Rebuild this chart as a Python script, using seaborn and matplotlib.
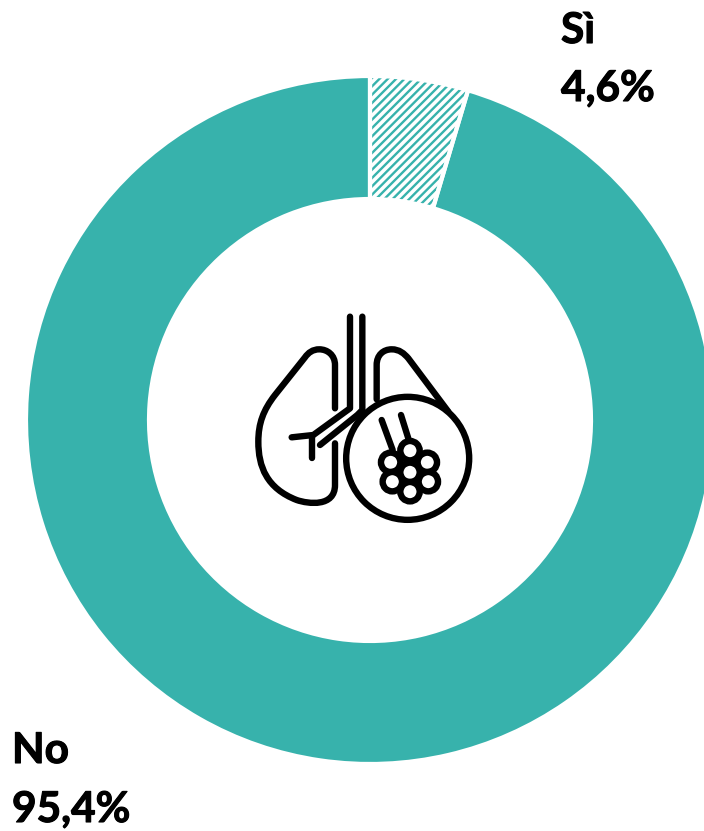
import matplotlib
matplotlib.use("Agg")
import matplotlib.pyplot as plt
import matplotlib.patheffects as pe
import seaborn as sns
from matplotlib.path import Path
from matplotlib.patches import PathPatch, Circle

categories = ["Sì", "No"]
values = [4.6, 95.4]
teal = "#37B2AC"

sns.set_theme(style="white")
plt.rcParams["font.family"] = ["Lato", "DejaVu Sans"]
plt.rcParams["hatch.linewidth"] = 1.7

W, H = 704, 831
fig = plt.figure(figsize=(W / 100, H / 100), dpi=100, facecolor="white")
ax = fig.add_axes([0, 0, 1, 1])

cx, cy, R, r = 370, H - 420, 343, 222

# base donut
wedges, _ = ax.pie(values, startangle=90, counterclock=False, center=(cx, cy), radius=R,
                   colors=["white", teal], wedgeprops=dict(width=R - r, linewidth=0))
wedges[0].set_facecolor("white")
wedges[0].set_edgecolor(teal)
wedges[0].set_hatch("////")
wedges[0].set_linewidth(0)
# white separators
over, _ = ax.pie(values, startangle=90, counterclock=False, center=(cx, cy), radius=R + 1,
                 colors=["none", "none"],
                 wedgeprops=dict(width=R - r + 2, linewidth=3, edgecolor="white", facecolor="none"))

ax.set_xlim(0, W)
ax.set_ylim(0, H)
ax.set_aspect("equal")
ax.axis("off")


# Lung icon, sketched from the reference (zoom crop at 240,300, scale 3)
def P(x, y):
    return (240 + x / 3, H - (300 + y / 3))


ICON_LW = 4.6
style = dict(fill=False, edgecolor="black", linewidth=ICON_LW, capstyle="round", joinstyle="round", zorder=5)


def curve(points, codes):
    ax.add_patch(PathPatch(Path([P(*p) for p in points], codes), **style))


M, L, C = Path.MOVETO, Path.LINETO, Path.CURVE4
# left lung
curve([(285, 325), (285, 195), (285, 165), (262, 148), (238, 148), (218, 148), (205, 158), (195, 172),
       (105, 285), (70, 330), (55, 370), (55, 425), (55, 500), (80, 565), (170, 600),
       (205, 612), (285, 622), (285, 555), (285, 430)],
      [M, L, C, C, C, C, C, C, L, C, C, C, C, C, C, C, C, C, L])
# right lung
curve([(410, 298), (410, 195), (410, 165), (430, 148), (455, 148), (478, 148), (492, 160), (505, 175), (625, 335)],
      [M, L, C, C, C, C, C, C, L])
# airways
curve([(330, 50), (330, 325), (220, 405), (155, 412)], [M, L, L, L])
curve([(215, 412), (215, 475)], [M, L])
curve([(367, 50), (367, 330), (352, 345), (240, 435)], [M, L, L, L])
# magnifier circle
ax.add_patch(Circle(P(503, 475), 61.5, facecolor="white", edgecolor="black", linewidth=ICON_LW, zorder=6))
# alveolar ducts and cluster
for pts in ([(425, 360), (458, 450)], [(483, 345), (508, 425)]):
    ax.plot(*zip(*[P(*p) for p in pts]), color="black", lw=ICON_LW, solid_capstyle="round", zorder=7)
for c in [(510, 452), (452, 487), (562, 487), (510, 517), (457, 545), (565, 545), (510, 575)]:
    ax.add_patch(Circle(P(*c), 9.7, facecolor="white", edgecolor="black", linewidth=ICON_LW, zorder=8))


def fmt(v):
    return f"{v:.1f}".replace(".", ",") + "%"


font = dict(fontsize=30.5, fontweight="bold", color="black", va="center", ha="left", clip_on=False,
            path_effects=[pe.withStroke(linewidth=0.8, foreground="black")])
ax.text(561, H - 31, categories[0], **font)
ax.text(561, H - 89, fmt(values[0]), **font)
ax.text(12, H - 751, categories[1], **font)
ax.text(12, H - 810, fmt(values[1]), **font)

fig.savefig("out.png", dpi=100, facecolor="white")
